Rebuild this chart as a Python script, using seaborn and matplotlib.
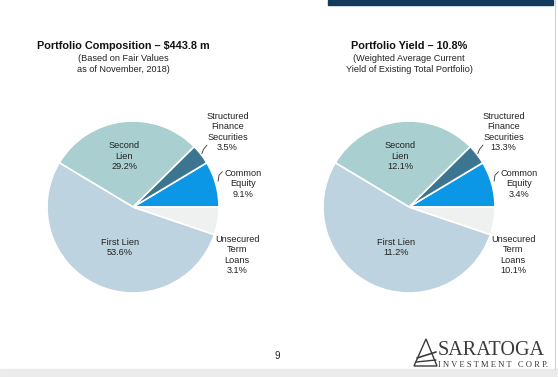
import matplotlib
matplotlib.use("Agg")
import matplotlib.pyplot as plt
import seaborn as sns
from matplotlib.patches import Polygon

# ---- data ----
categories = ["Common\nEquity", "Structured\nFinance\nSecurities", "Second\nLien", "First Lien", "Unsecured\nTerm\nLoans"]
# slice shares as drawn in the reference (counter-clockwise from 3 o'clock)
slice_shares = [8.6, 3.8, 29.0, 53.4, 5.2]
composition_labels = ["9.1%", "3.5%", "29.2%", "53.6%", "3.1%"]
yield_labels = ["3.4%", "13.3%", "12.1%", "11.2%", "10.1%"]
titles = ["Portfolio Composition \u2013 $443.8 m", "Portfolio Yield \u2013 10.8%"]
subtitles = ["(Based on Fair Values\nas of November, 2018)",
             "(Weighted Average Current\nYield of Existing Total Portfolio)"]

colors = sns.color_palette(["#0b97e6", "#3b7590", "#a9cfd0", "#bdd3df", "#eff1f1"])

sns.set_theme(style="white")
plt.rcParams['font.family'] = ['Liberation Sans', 'DejaVu Sans']

W, H = 558, 377
fig = plt.figure(figsize=(W / 100, H / 100), dpi=100)
fig.patch.set_facecolor("white")

def fx(x):
    return x / W

def fy(y):
    return 1 - y / H

R = 86
centers = [(133, 207), (409, 207)]
title_x = [123, 409]
label_pos = [(1.28, 0.27), (1.10, 0.87), (-0.10, 0.59), (-0.15, -0.47), (1.21, -0.56)]
txtc = "#222222"

for i, (cx, cy) in enumerate(centers):
    ax = fig.add_axes([fx(cx - R), fy(cy + R), fx(2 * R), 2 * R / H])
    ax.pie(slice_shares, colors=colors, startangle=0, counterclock=True,
           wedgeprops=dict(edgecolor="white", linewidth=1.2))
    ax.set_xlim(-1, 1)
    ax.set_ylim(-1, 1)
    ax.set_aspect("equal")
    ax.axis("off")
    vals = composition_labels if i == 0 else yield_labels
    for cat, v, (lx, ly) in zip(categories, vals, label_pos):
        ax.text(lx, ly, f"{cat}\n{v}", ha="center", va="center", fontsize=6.6,
                color=txtc, linespacing=1.2, clip_on=False)
    # leader lines
    ax.plot([0.80, 0.82, 0.86], [0.62, 0.67, 0.72], color="#333333", lw=0.6, clip_on=False)
    ax.plot([0.99, 1.00, 1.04], [0.30, 0.37, 0.41], color="#333333", lw=0.6, clip_on=False)

    fig.text(fx(title_x[i]), fy(46), titles[i], ha="center", va="center",
             fontsize=7.8, fontweight="bold", color="#111111")
    fig.text(fx(title_x[i]), fy(64), subtitles[i], ha="center", va="center",
             fontsize=6.6, color=txtc, linespacing=1.2)

# decorations
fig.patches.append(plt.Rectangle((fx(328), fy(5)), fx(553 - 328), 5 / H,
                                 transform=fig.transFigure, color="#133a5c"))
fig.patches.append(plt.Rectangle((0, 0), 1, 8 / H, transform=fig.transFigure,
                                 color="#ebebeb"))
fig.lines.append(plt.Line2D([fx(555), fx(555)], [fy(0), fy(369)], transform=fig.transFigure,
                            color="#d0d0d0", lw=0.8))

fig.text(fx(277), fy(356), "9", ha="center", va="center", fontsize=7, color=txtc)

# logo
fig.text(fx(438), fy(355), "SARATOGA", ha="left", va="baseline", fontsize=14.5,
         family="Liberation Serif", color="#3a3a3a")
fig.text(fx(438), fy(367), "I N V E S T M E N T   C O R P.", ha="left", va="baseline",
         fontsize=6.2, family="Liberation Serif", color="#3a3a3a")
icon = Polygon([(fx(414), fy(366)), (fx(426), fy(339)), (fx(437), fy(366))], closed=True,
               fill=False, edgecolor="#3a3a3a", lw=1.0, transform=fig.transFigure)
fig.patches.append(icon)
fig.lines.append(plt.Line2D([fx(417), fx(436)], [fy(358), fy(352)], transform=fig.transFigure,
                            color="#3a3a3a", lw=1.2))
fig.lines.append(plt.Line2D([fx(416), fx(436)], [fy(362), fy(360)], transform=fig.transFigure,
                            color="#3a3a3a", lw=1.0))

fig.savefig("out.png", dpi=100, facecolor="white")
